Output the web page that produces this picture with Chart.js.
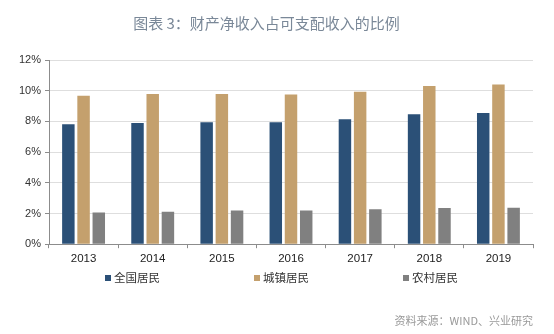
<!DOCTYPE html>
<html lang="zh">
<head>
    <meta charset="UTF-8">
    <title>财产净收入占可支配收入的比例</title>
    <script src="https://cdn.jsdelivr.net/npm/chart.js"></script>
    <style>
        body {
            margin: 0;
            background-color: white;
            font-family: "Noto Sans CJK SC", "Noto Sans", sans-serif;
        }
        #wrap {
            position: relative;
            width: 554px;
            height: 334px;
        }
        #legend {
            position: absolute;
            top: 268px;
            left: 0;
            width: 554px;
            height: 18px;
        }
        .item {
            position: absolute;
            top: 0;
            font-size: 11.5px;
            line-height: 18px;
            color: #333;
            white-space: nowrap;
        }
        .item i {
            display: inline-block;
            width: 6px;
            height: 6px;
            margin-right: 3px;
            vertical-align: 1px;
        }
        #source {
            position: absolute;
            right: 21px;
            top: 312px;
            font-size: 11px;
            line-height: 16px;
            color: #999;
        }
    </style>
</head>
<body>

<div id="wrap">
    <canvas id="myChart"></canvas>
    <div id="legend"></div>
    <div id="source">资料来源：WIND、兴业研究</div>
</div>

<script>
    // data (% of disposable income)
    var years = ['2013', '2014', '2015', '2016', '2017', '2018', '2019'];
    var nationalShare = [7.81, 7.90, 7.94, 7.94, 8.14, 8.47, 8.55];
    var urbanShare = [9.67, 9.78, 9.78, 9.76, 9.93, 10.30, 10.41];
    var ruralShare = [2.07, 2.12, 2.20, 2.20, 2.27, 2.36, 2.38];
    var seriesNames = ['全国居民', '城镇居民', '农村居民'];
    var seriesColors = ['#2b5077', '#c4a06d', '#808080'];
    var yTicks = [0, 2, 4, 6, 8, 10, 12];

    var seriesData = [nationalShare, urbanShare, ruralShare];
    var datasets = seriesNames.map(function (name, i) {
        return {
            label: name,
            data: seriesData[i],
            backgroundColor: seriesColors[i],
            borderWidth: 0,
            barPercentage: 0.82,
            categoryPercentage: 0.66
        };
    });

    // legend as html, spaced like the original
    var legend = document.getElementById('legend');
    seriesNames.forEach(function (name, i) {
        var el = document.createElement('span');
        el.className = 'item';
        el.style.left = (105 + i * 149) + 'px';
        el.innerHTML = '<i style="background:' + seriesColors[i] + '"></i>' + name;
        legend.appendChild(el);
    });

    var ctx = document.getElementById('myChart').getContext('2d');
    var myChart = new Chart(ctx, {
        type: 'bar',
        data: {
            labels: years,
            datasets: datasets
        },
        options: {
            responsive: true,
            maintainAspectRatio: false,
            animation: false,
            layout: {
                padding: { left: 0, right: 21, top: 0, bottom: 64 }
            },
            plugins: {
                legend: { display: false },
                tooltip: { enabled: false },
                title: {
                    display: true,
                    text: '图表 3：财产净收入占可支配收入的比例',
                    color: '#7a8898',
                    font: { family: '"Noto Sans CJK SC", sans-serif', size: 15, weight: 'normal' },
                    padding: { top: 14, bottom: 28 }
                }
            },
            scales: {
                x: {
                    grid: {
                        display: true,
                        offset: true,
                        drawOnChartArea: false,
                        drawTicks: true,
                        tickLength: 4,
                        color: '#8c8c8c'
                    },
                    border: { color: '#8c8c8c', width: 1 },
                    ticks: {
                        color: '#222',
                        padding: 4,
                        font: { family: 'Arial, "Liberation Sans", sans-serif', size: 11.5 }
                    }
                },
                y: {
                    min: 0,
                    max: 12,
                    afterFit: function (scale) { scale.width = 49; },
                    afterBuildTicks: function (scale) {
                        scale.ticks = yTicks.map(function (v) { return { value: v }; });
                    },
                    grid: {
                        color: '#dedede',
                        tickColor: '#8c8c8c',
                        tickLength: 4
                    },
                    border: { color: '#8c8c8c', width: 1 },
                    ticks: {
                        color: '#333',
                        padding: 4,
                        font: { family: 'Arial, "Liberation Sans", sans-serif', size: 11 },
                        callback: function (v) { return v + '%'; }
                    }
                }
            }
        }
    });
</script>

</body>
</html>
